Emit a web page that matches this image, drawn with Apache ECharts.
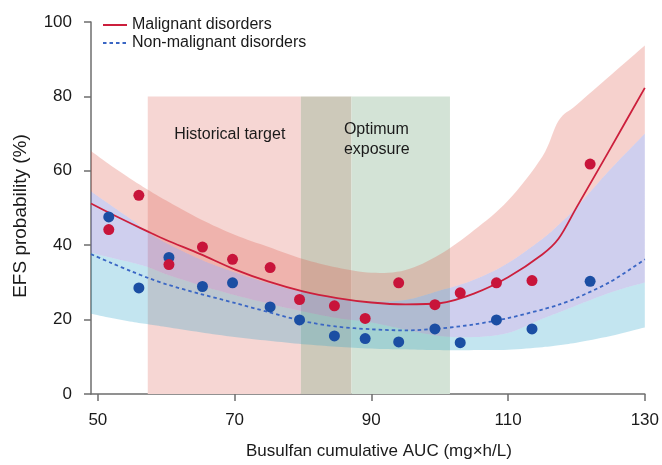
<!DOCTYPE html>
<html>
<head>
<meta charset="utf-8">
<script src="https://cdn.jsdelivr.net/npm/echarts@6/dist/echarts.min.js"></script>
<style>
html,body{margin:0;padding:0;background:#fff;}
#chart{width:662px;height:465px;}
</style>
</head>
<body>
<div id="chart"></div>
<script>
// Curve grid (busulfan cumulative AUC, mg×h/L)
const X = [49, 52, 55, 57.5, 60, 65, 70, 75, 80, 85, 90, 95, 100, 105, 110, 115, 117.4, 120, 125, 130];
const maligLine     = [51.2, 48.4, 45.7, 43.5, 41.4, 37.6, 33.5, 30.2, 27.6, 25.8, 24.6, 24.1, 24.4, 27.0, 31.4, 37.5, 41.8, 50.1, 66.1, 82.3];
const nonMaligLine  = [37.6, 35.2, 32.9, 31.1, 29.5, 26.9, 24.5, 22.0, 19.6, 18.1, 17.4, 17.1, 17.6, 18.7, 20.4, 22.7, 24.0, 25.8, 30.2, 36.2];
const maligUpper    = [65.3, 61.3, 57.6, 54.7, 52.0, 47.0, 42.8, 39.5, 36.3, 34.0, 32.6, 33.3, 37.5, 44.0, 52.0, 63.8, 73.5, 77.7, 85.7, 93.7];
const nonMaligUpper = [54.5, 50.6, 46.8, 43.3, 40.6, 36.2, 32.7, 29.8, 27.4, 25.8, 24.9, 25.3, 27.8, 30.7, 35.2, 41.7, 45.5, 50.2, 60.5, 70.0];
const maligLower    = [38.0, 36.6, 35.3, 34.0, 32.2, 29.2, 26.6, 24.3, 22.2, 20.4, 19.2, 17.3, 15.6, 15.3, 16.4, 20.2, 21.9, 23.8, 27.3, 30.0];
const nonMaligLower = [21.6, 20.4, 19.4, 18.7, 18.0, 16.6, 15.3, 14.3, 13.4, 12.7, 12.2, 12.0, 11.8, 11.8, 11.9, 12.6, 13.1, 13.8, 15.6, 17.9];

// Observed points
const dotX          = [51.6, 56.0, 60.4, 65.3, 69.7, 75.2, 79.5, 84.6, 89.1, 94.0, 99.3, 103.0, 108.3, 113.5, 122.0];
const maligDots     = [44.2, 53.4, 34.8, 39.5, 36.2, 34.0, 25.4, 23.7, 20.3, 29.9, 24.0, 27.2, 29.9, 30.5, 61.8];
const nonMaligDots  = [47.6, 28.5, 36.7, 28.9, 29.9, 23.4, 19.9, 15.6, 14.9, 14.0, 17.5, 13.8, 19.9, 17.5, 30.3];

// Exposure windows
const historicalTarget = [57.3, 87.1];
const optimumExposure  = [79.7, 101.5];
const rectTop = 80;

const xTicks = [50, 70, 90, 110, 130];
const yTicks = [0, 20, 40, 60, 80, 100];

const pair = (xs, ys) => xs.map((x, i) => [x, ys[i]]);

const FONT = 'Liberation Sans, Arial, Helvetica, sans-serif';
const chart = echarts.init(document.getElementById('chart'), null, {renderer: 'canvas'});

// Catmull-Rom smoothing of a pixel polyline (rendering only)
function splinePx(p) {
  const out = [];
  const n = p.length, STEPS = 8;
  for (let i = 0; i < n - 1; i++) {
    const p0 = p[Math.max(i - 1, 0)], p1 = p[i], p2 = p[i + 1], p3 = p[Math.min(i + 2, n - 1)];
    for (let s = 0; s < STEPS; s++) {
      const t = s / STEPS, t2 = t * t, t3 = t2 * t;
      const f = (a, b, c, d) => 0.5 * ((2 * b) + (-a + c) * t + (2 * a - 5 * b + 4 * c - d) * t2 + (-a + 3 * b - 3 * c + d) * t3);
      out.push([f(p0[0], p1[0], p2[0], p3[0]), f(p0[1], p1[1], p2[1], p3[1])]);
    }
  }
  out.push(p[n - 1]);
  return out;
}

// filled region between two boundary arrays, drawn through the axis scales
function region(name, upper, lower, fill) {
  return {
    type: 'custom', name: name, silent: true, z: 2, clip: true,
    data: [0],
    renderItem: function (params, api) {
      const up = X.map((x, i) => api.coord([x, upper[i]]));
      const lo = X.map((x, i) => api.coord([x, lower[i]]));
      const pts = splinePx(up).concat(splinePx(lo).reverse());
      return {type: 'polygon', shape: {points: pts}, style: {fill: fill, stroke: null}};
    }
  };
}

chart.setOption({
  animation: false,
  backgroundColor: '#ffffff',
  grid: {left: 91, right: 15, top: 22, bottom: 67, containLabel: false},
  legend: {
    orient: 'vertical', left: 97, top: 12, itemWidth: 24, itemHeight: 14, itemGap: 2,
    data: ['Malignant disorders', 'Non-malignant disorders'],
    itemStyle: {opacity: 0},
    textStyle: {fontFamily: FONT, fontSize: 16, color: '#1a1a1a', lineHeight: 16}
  },
  xAxis: {
    type: 'value', min: 49, max: 130,
    name: 'Busulfan cumulative AUC (mg×h/L)', nameLocation: 'middle', nameGap: 49,
    nameTextStyle: {fontFamily: FONT, fontSize: 17, color: '#1a1a1a', padding: [0, 0, 0, 22]},
    axisLine: {onZero: false, lineStyle: {color: '#6e6e6e', width: 1.5}},
    axisTick: {show: true, length: 7, lineStyle: {color: '#6e6e6e', width: 1.5},
      customValues: xTicks},
    axisLabel: {fontFamily: FONT, fontSize: 17, color: '#1a1a1a', margin: 18,
      customValues: xTicks},
    splitLine: {show: false}
  },
  yAxis: {
    type: 'value', min: 0, max: 100, interval: 20,
    name: 'EFS probability (%)', nameLocation: 'middle', nameGap: 61, nameRotate: 90,
    nameTextStyle: {fontFamily: FONT, fontSize: 19, color: '#1a1a1a', padding: [0, 16, 0, 0]},
    axisLine: {show: true, lineStyle: {color: '#6e6e6e', width: 1.5}},
    axisTick: {show: true, length: 7, lineStyle: {color: '#6e6e6e', width: 1.5}},
    axisLabel: {fontFamily: FONT, fontSize: 17, color: '#1a1a1a', margin: 19,
      formatter: v => yTicks.indexOf(v) >= 0 ? String(v) : ''},
    splitLine: {show: false}
  },
  series: [
    {
      type: 'line', name: 'windows', data: [], z: 1, silent: true,
      markArea: {
        silent: true,
        data: [
          [{xAxis: historicalTarget[0], yAxis: 0, itemStyle: {color: '#f6d6d3'},
            label: {show: true, formatter: 'Historical target', position: [82, 38],
              align: 'center', verticalAlign: 'middle', fontFamily: FONT, fontSize: 16, color: '#1a1a1a'}},
           {xAxis: optimumExposure[0], yAxis: rectTop}],
          [{xAxis: optimumExposure[0], yAxis: 0, itemStyle: {color: '#cdc9ba'},
            label: {show: true, formatter: 'Optimum\nexposure', position: [43, 23],
              align: 'left', verticalAlign: 'top', lineHeight: 20, fontFamily: FONT, fontSize: 16, color: '#1a1a1a'}},
           {xAxis: historicalTarget[1], yAxis: rectTop}],
          [{xAxis: historicalTarget[1], yAxis: 0, itemStyle: {color: '#d3e3d6'}, label: {show: false}},
           {xAxis: optimumExposure[1], yAxis: rectTop}]
        ]
      }
    },
    region('nonMaligOnly', maligLower, nonMaligLower, 'rgba(40,160,200,0.28)'),
    region('overlap', nonMaligUpper, maligLower, 'rgba(95,95,200,0.30)'),
    region('maligOnly', maligUpper, nonMaligUpper, 'rgba(222,85,72,0.27)'),
    {
      type: 'line', name: 'Non-malignant disorders', data: pair(X, nonMaligLine), symbol: 'none', z: 3,
      smooth: 0.3,
      lineStyle: {color: '#3a66c4', width: 1.8, type: [3.5, 3]}, itemStyle: {color: '#3a66c4'}
    },
    {
      type: 'line', name: 'Malignant disorders', data: pair(X, maligLine), symbol: 'none', z: 3,
      smooth: 0.3,
      lineStyle: {color: '#cc1f3c', width: 1.8}, itemStyle: {color: '#cc1f3c'}
    },
    {
      type: 'scatter', name: 'nonMaligPts', data: pair(dotX, nonMaligDots), symbolSize: 11, z: 4,
      itemStyle: {color: '#1b4ea3', opacity: 1}
    },
    {
      type: 'scatter', name: 'maligPts', data: pair(dotX, maligDots), symbolSize: 11, z: 5,
      itemStyle: {color: '#c8143a', opacity: 1}
    }
  ]
});
</script>
</body>
</html>
